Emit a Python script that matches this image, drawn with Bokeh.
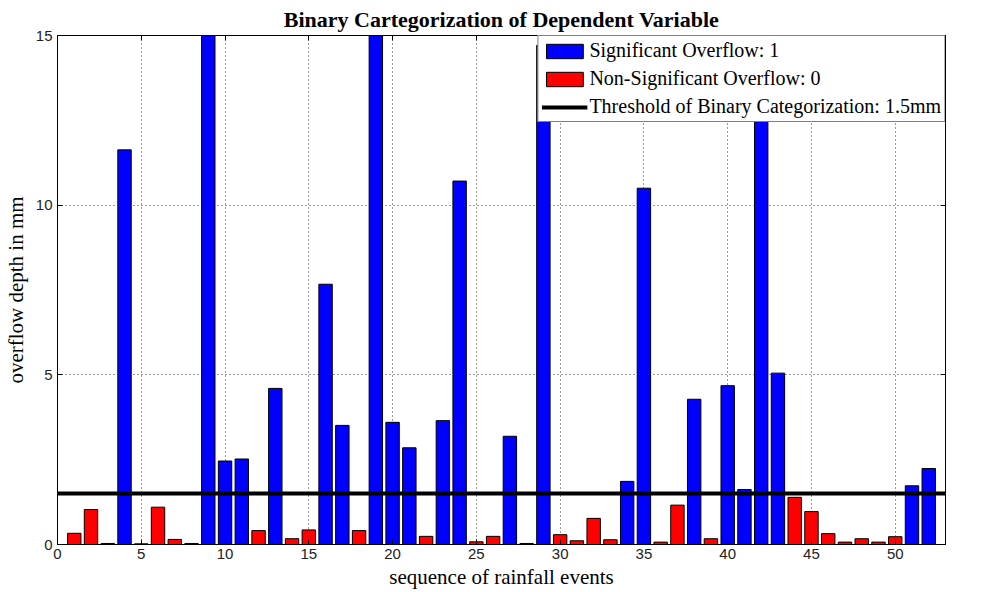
from bokeh.plotting import figure
from bokeh.models import Range1d, LinearAxis, FixedTicker, Legend, LegendItem, CustomJSTickFormatter
from bokeh.embed import file_html
from bokeh.resources import INLINE

# ---- data ----
events = list(range(1, 53))
depths = [0.33, 1.03, 0.03, 11.63, 0.02, 1.10, 0.15, 0.03, 17.2, 2.46,
          2.52, 0.41, 4.60, 0.17, 0.43, 7.67, 3.51, 0.41, 19.4, 3.60,
          2.85, 0.24, 3.65, 10.71, 0.08, 0.24, 3.19, 0.03, 14.71, 0.29,
          0.11, 0.77, 0.14, 1.86, 10.50, 0.07, 1.16, 4.28, 0.17, 4.68,
          1.62, 12.53, 5.05, 1.39, 0.97, 0.32, 0.07, 0.17, 0.07, 0.23,
          1.73, 2.24]
threshold = 1.5
x_ticks = [0, 5, 10, 15, 20, 25, 30, 35, 40, 45, 50]
y_ticks = [0, 5, 10, 15]
x_limits = [0, 53]
y_limits = [0, 15]

sig_x = [e for e, d in zip(events, depths) if d > threshold]
sig_y = [d for d in depths if d > threshold]
non_x = [e for e, d in zip(events, depths) if d <= threshold]
non_y = [d for d in depths if d <= threshold]

SERIF = "Liberation Serif"
SANS = "Liberation Sans"

p = figure(width=981, height=592, output_backend="svg", toolbar_location=None,
           x_range=Range1d(*x_limits), y_range=Range1d(*y_limits),
           min_border_left=55, min_border_right=36, min_border_top=35, min_border_bottom=48,
           background_fill_color="white", border_fill_color="white")

p.title.text = "Binary Cartegorization of Dependent Variable"
p.title.text_font = SERIF
p.title.text_font_size = "22px"
p.title.text_font_style = "bold"
p.title.text_color = "black"
p.title.align = "center"
p.title.offset = 0
p.title.standoff = 8

p.outline_line_color = "black"
p.outline_line_width = 1
p.outline_line_alpha = 1

r_sig = p.vbar(x=sig_x, top=sig_y, width=0.8, fill_color="#0000FF", line_color="black", line_width=1)
r_non = p.vbar(x=non_x, top=non_y, width=0.8, fill_color="#FF0000", line_color="black", line_width=1)
r_thr = p.line(x=x_limits, y=[threshold, threshold], line_color="black", line_width=4)

# axes styling
for ax in (p.xaxis[0], p.yaxis[0]):
    ax.major_tick_in = 5
    ax.major_tick_out = 0
    ax.minor_tick_in = 0
    ax.minor_tick_out = 0
    ax.axis_line_color = "black"
    ax.major_label_text_font = SANS
    ax.major_label_text_font_size = "15px"
    ax.major_label_text_color = "#222222"
    ax.axis_label_text_font = SERIF
    ax.axis_label_text_font_size = "21px"
    ax.axis_label_text_font_style = "normal"
    ax.axis_label_text_color = "black"

p.xaxis[0].ticker = FixedTicker(ticks=x_ticks)
p.yaxis[0].ticker = FixedTicker(ticks=y_ticks)
p.xaxis[0].axis_label = "sequence of rainfall events"
p.yaxis[0].axis_label = "overflow depth in mm"
p.xaxis[0].major_label_standoff = 4
p.xaxis[0].axis_label_standoff = 3
p.yaxis[0].major_label_standoff = 5
p.yaxis[0].axis_label_standoff = 5

# box ticks on top and right (MATLAB style), without labels
blank = CustomJSTickFormatter(code="return '';")
top_ax = LinearAxis(ticker=FixedTicker(ticks=x_ticks), formatter=blank, major_tick_in=5, major_tick_out=0,
                    minor_tick_in=0, minor_tick_out=0, major_label_standoff=0, axis_line_color="black")
right_ax = LinearAxis(ticker=FixedTicker(ticks=y_ticks), formatter=blank, major_tick_in=5, major_tick_out=0,
                      minor_tick_in=0, minor_tick_out=0, major_label_standoff=0, axis_line_color="black")
p.add_layout(top_ax, "above")
p.add_layout(right_ax, "right")

# grids
for g in (p.xgrid[0], p.ygrid[0]):
    g.grid_line_color = "#333333"
    g.grid_line_dash = "1 3"
    g.grid_line_width = 1
    g.grid_line_alpha = 1
p.xgrid[0].ticker = FixedTicker(ticks=x_ticks)
p.ygrid[0].ticker = FixedTicker(ticks=y_ticks)

legend = Legend(items=[
    LegendItem(label="Significant Overflow: 1", renderers=[r_sig]),
    LegendItem(label="Non-Significant Overflow: 0", renderers=[r_non]),
    LegendItem(label="Threshold of Binary Categorization: 1.5mm", renderers=[r_thr]),
], location="top_right")
legend.glyph_width = 46
legend.glyph_height = 18
legend.label_height = 21
legend.spacing = 5
legend.padding = 3
legend.margin = 0
legend.label_standoff = 2
legend.label_text_font = SERIF
legend.label_text_font_size = "20px"
legend.label_text_color = "black"
legend.border_line_color = "black"
legend.border_line_width = 1
legend.background_fill_color = "white"
legend.background_fill_alpha = 1
p.add_layout(legend, "center")

open("out.html", "w").write(file_html(p, INLINE))
